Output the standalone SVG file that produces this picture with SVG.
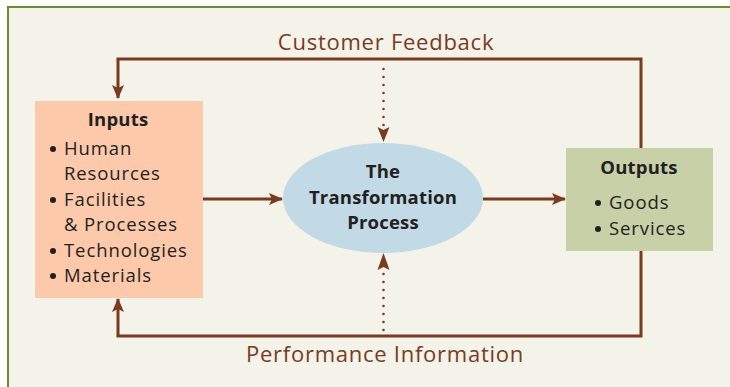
<svg xmlns="http://www.w3.org/2000/svg" width="730" height="387" viewBox="0 0 730 387">
<style>
.lbl{font-family:"Open Sans",Lato,sans-serif;fill:#7a3a1e;font-size:22px;letter-spacing:0.75px;}
.node{font-family:"Open Sans",Lato,sans-serif;fill:#231f20;font-size:18.5px;letter-spacing:0.9px;}
.b{font-weight:bold;letter-spacing:0.2px;}
.conn{stroke:#7a3a1e;stroke-width:3;fill:none;}
.dot{stroke:#7a3a1e;stroke-width:2.6;fill:none;stroke-dasharray:0 8;stroke-linecap:round;}
</style>
<defs>
<marker id="ah" markerWidth="14" markerHeight="12" refX="13" refY="6" orient="auto" markerUnits="userSpaceOnUse">
<path d="M0,0 L14,6 L0,12 L3,6 Z" fill="#7a3a1e"/>
</marker>
</defs>
<rect x="0" y="0" width="730" height="387" fill="#ffffff"/>
<rect x="8" y="7" width="730" height="390" fill="#f4f3ea" stroke="#6f8a2e" stroke-width="2"/>
<g id="connectors">
<path class="conn" d="M641,148 L641,59 L118,59 L118,98" marker-end="url(#ah)"/>
<path class="conn" d="M641,251 L641,336 L118,336 L118,299" marker-end="url(#ah)"/>
<path class="conn" d="M203,199 L282,199" marker-end="url(#ah)"/>
<path class="conn" d="M483,199 L565,199" marker-end="url(#ah)"/>
<path class="dot" d="M383.5,69 L383.5,127"/>
<path d="M377.5,127 L383.5,142 L389.5,127 L383.5,130 Z" fill="#7a3a1e"/>
<path class="dot" d="M383.5,330 L383.5,273"/>
<path d="M377.5,270 L383.5,253 L389.5,270 L383.5,267 Z" fill="#7a3a1e"/>
<text class="lbl" x="386" y="50" text-anchor="middle">Customer Feedback</text>
<text class="lbl" x="385" y="362" text-anchor="middle">Performance Information</text>
</g>
<g id="inputs">
<rect x="35" y="101" width="168" height="197" fill="#fcc9ab"/>
<text class="node b" x="118" y="126" text-anchor="middle">Inputs</text>
<circle cx="53" cy="149" r="3" fill="#231f20"/>
<text class="node" x="64" y="155">Human</text>
<text class="node" x="64" y="180">Resources</text>
<circle cx="53" cy="200" r="3" fill="#231f20"/>
<text class="node" x="64" y="206">Facilities</text>
<text class="node" x="64" y="231">&amp; Processes</text>
<circle cx="53" cy="251" r="3" fill="#231f20"/>
<text class="node" x="64" y="257">Technologies</text>
<circle cx="53" cy="276" r="3" fill="#231f20"/>
<text class="node" x="64" y="282">Materials</text>
</g>
<g id="process">
<ellipse cx="383" cy="198" rx="100" ry="55" fill="#c2d9e6"/>
<text class="node b" x="383" y="178" text-anchor="middle">The</text>
<text class="node b" x="383" y="204" text-anchor="middle">Transformation</text>
<text class="node b" x="383" y="229" text-anchor="middle">Process</text>
</g>
<g id="outputs">
<rect x="566" y="148" width="147" height="103" fill="#c8d0a8"/>
<text class="node b" x="639" y="174" text-anchor="middle">Outputs</text>
<circle cx="598" cy="203" r="3" fill="#231f20"/>
<text class="node" x="609" y="209">Goods</text>
<circle cx="598" cy="229" r="3" fill="#231f20"/>
<text class="node" x="609" y="235">Services</text>
</g>
</svg>
